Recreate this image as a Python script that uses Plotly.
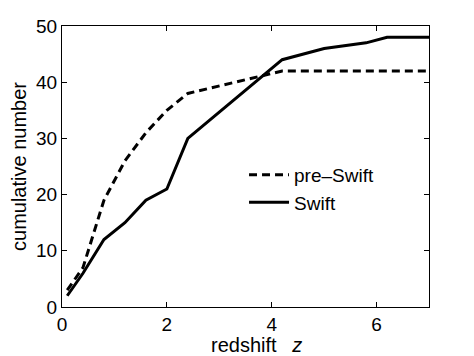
import plotly.graph_objects as go

# redshift grid points and cumulative counts
z_pre = [0.1, 0.4, 0.8, 1.2, 1.6, 2.0, 2.4, 4.2, 7.0]
n_pre = [3, 7, 19, 26, 31, 35, 38, 42, 42]

z_swift = [0.1, 0.4, 0.8, 1.2, 1.6, 2.0, 2.4, 4.2, 5.0, 5.8, 6.2, 7.0]
n_swift = [2, 6, 12, 15, 19, 21, 30, 44, 46, 47, 48, 48]

x_ticks = [0, 2, 4, 6]
y_ticks = [0, 10, 20, 30, 40, 50]

FONT = "Liberation Sans, Arial, Helvetica, sans-serif"

fig = go.Figure()
fig.add_trace(go.Scatter(
    x=z_pre, y=n_pre, mode="lines", name="pre\u2013Swift",
    line=dict(color="black", width=3, dash="8px,5px"),
))
fig.add_trace(go.Scatter(
    x=z_swift, y=n_swift, mode="lines", name="Swift",
    line=dict(color="black", width=3),
))

axis_common = dict(
    showline=True, linecolor="black", linewidth=1, mirror="ticks",
    ticks="inside", ticklen=5, tickcolor="black", showgrid=False,
    zeroline=False, automargin=False,
    tickfont=dict(size=19, color="black", family=FONT),
)

# page body adds an 8px margin, so the figure is 8px smaller than the window
fig.update_layout(
    width=466, height=348,
    margin=dict(l=54, r=45, t=18, b=49, autoexpand=False),
    paper_bgcolor="white", plot_bgcolor="white",
    font=dict(family=FONT, color="black"),
    xaxis=dict(range=[0, 7], tickvals=x_ticks, **axis_common),
    yaxis=dict(range=[0, 50], tickvals=y_ticks,
               title=dict(text="cumulative number", font=dict(size=20), standoff=4),
               **axis_common),
    legend=dict(x=0.496, y=0.538, xanchor="left", yanchor="top",
                bgcolor="rgba(0,0,0,0)", font=dict(size=19),
                itemwidth=40, tracegroupgap=0),
    showlegend=True,
)

# x axis label, placed as in the original (slightly right of centre)
fig.add_annotation(
    text="redshift\u2002 <i>z</i>", xref="paper", yref="paper",
    x=0.53, y=-0.135, xanchor="center", yanchor="middle",
    showarrow=False, font=dict(size=20, family=FONT, color="black"),
)

fig.write_html("out.html")
